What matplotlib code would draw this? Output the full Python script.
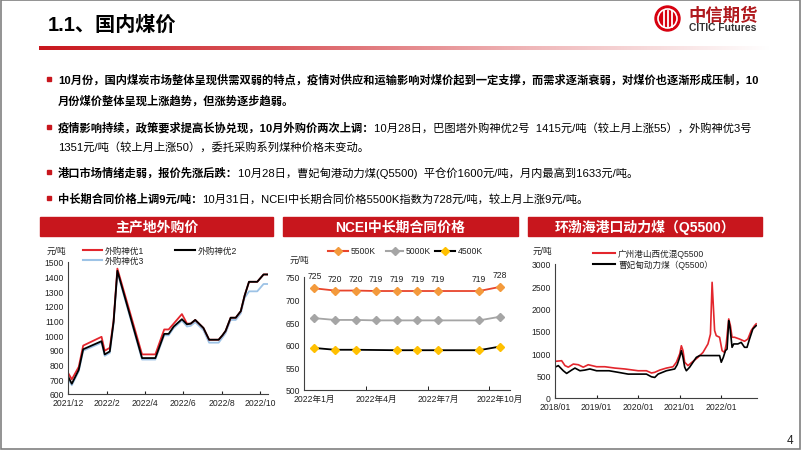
import numpy as np
import matplotlib
matplotlib.use('Agg')
import matplotlib.pyplot as plt
from matplotlib.patches import Rectangle, Circle
from matplotlib.colors import LinearSegmentedColormap

plt.rcParams['font.family'] = ['Liberation Sans', 'Noto Sans CJK SC', 'DejaVu Sans']

W, H = 802, 452
RED = '#C8161D'

# ---- panel 1: 主产地外购价 ----
sy_dates = ['2021-12-01', '2021-12-07', '2021-12-18', '2021-12-25', '2022-01-23', '2022-01-28',
            '2022-02-05', '2022-02-11', '2022-02-17', '2022-03-28', '2022-04-18', '2022-05-02',
            '2022-05-09', '2022-05-17', '2022-05-30', '2022-06-07', '2022-06-13', '2022-06-20',
            '2022-07-03', '2022-07-12', '2022-07-27', '2022-08-02', '2022-08-07', '2022-08-15',
            '2022-08-23', '2022-08-31', '2022-09-06', '2022-09-13', '2022-09-26', '2022-10-06',
            '2022-10-12']
sy1 = [745, 700, 785, 930, 990, 895, 915, 1100, 1455, 870, 870, 1040, 1040, 1080, 1145, 1080,
       1080, 1105, 1050, 970, 970, 1000, 1030, 1120, 1120, 1165, 1270, 1365, 1365, 1415, 1415]
sy2 = [720, 670, 765, 905, 960, 870, 890, 1090, 1440, 845, 845, 1010, 1010, 1060, 1110, 1075,
       1080, 1105, 1050, 970, 970, 1000, 1030, 1120, 1120, 1165, 1270, 1365, 1365, 1415, 1415]
sy3 = [705, 660, 755, 895, 950, 860, 880, 1080, 1430, 835, 835, 1000, 1000, 1050, 1100, 1060,
       1065, 1090, 1035, 950, 950, 985, 1015, 1105, 1105, 1150, 1255, 1300, 1300, 1350, 1350]
sy_ticks = ['2021-12-01', '2022-02-01', '2022-04-01', '2022-06-01', '2022-08-01', '2022-10-01']
sy_ticklabels = ['2021/12', '2022/2', '2022/4', '2022/6', '2022/8', '2022/10']

# ---- panel 2: NCEI中长期合同价格 ----
ncei_months = [1, 2, 3, 4, 5, 6, 7, 9, 10]
k5500 = [725, 720, 720, 719, 719, 719, 719, 719, 728]
k5000 = [659, 655, 655, 654, 654, 654, 654, 654, 662]
k4500_months = [1, 2, 3, 5, 6, 7, 9, 10]
k4500 = [593, 589, 589, 588, 588, 588, 588, 596]
ncei_ticks = [1, 4, 7, 10]
ncei_ticklabels = ['2022年1月', '2022年4月', '2022年7月', '2022年10月']

# ---- panel 3: 环渤海港口动力煤 ----
gz_t = [2018.00, 2018.16, 2018.24, 2018.32, 2018.44, 2018.56, 2018.68, 2018.80, 2019.00, 2019.20,
        2019.44, 2019.68, 2020.00, 2020.20, 2020.32, 2020.40, 2020.52, 2020.68, 2020.84, 2020.92,
        2021.00, 2021.04, 2021.08, 2021.12, 2021.20, 2021.32, 2021.44, 2021.56, 2021.68, 2021.74,
        2021.78, 2021.84, 2021.88, 2021.96, 2022.02, 2022.08, 2022.12, 2022.18, 2022.22, 2022.26,
        2022.32, 2022.44, 2022.56, 2022.64, 2022.72, 2022.80, 2022.84]
gz_v = [820, 835, 725, 690, 760, 745, 690, 745, 700, 700,
        670, 650, 610, 610, 560, 575, 625, 670, 700, 800,
        985, 1170, 1060, 800, 725, 820, 910, 1020, 1210, 1430,
        2590, 1510, 1395, 1360, 1060, 1020, 1210, 1770, 1620, 1360,
        1360, 1320, 1270, 1320, 1510, 1620, 1660]
cfd_t = [2018.00, 2018.08, 2018.20, 2018.28, 2018.40, 2018.48, 2018.60, 2018.72, 2018.84, 2019.00,
         2019.30, 2019.52, 2019.76, 2020.00, 2020.20, 2020.32, 2020.40, 2020.48, 2020.68, 2020.88,
         2020.94, 2021.00, 2021.04, 2021.08, 2021.12, 2021.16, 2021.24, 2021.32, 2021.40, 2021.48,
         2021.96, 2022.00, 2022.05, 2022.10, 2022.14, 2022.18, 2022.21, 2022.26, 2022.30, 2022.40,
         2022.48, 2022.56, 2022.62, 2022.68, 2022.76, 2022.84]
cfd_v = [690, 725, 610, 550, 625, 670, 610, 625, 650, 610,
         610, 575, 535, 535, 535, 475, 460, 535, 610, 650,
         745, 910, 1060, 910, 690, 610, 690, 800, 910, 950,
         950, 800, 910, 1060, 1095, 1730, 1580, 1135, 1210, 1210,
         1245, 1135, 1135, 1320, 1545, 1620]
port_ticks = [2018, 2019, 2020, 2021, 2022]
port_ticklabels = ['2018/01', '2019/01', '2020/01', '2021/01', '2022/01']

bullets = [
    (80, '10月份，国内煤炭市场整体呈现供需双弱的特点，疫情对供应和运输影响对煤价起到一定支撑，而需求逐渐衰弱，对煤价也逐渐形成压制，10', '', True),
    (101, '月份煤价整体呈现上涨趋势，但涨势逐步趋弱。', '', False),
    (128, '疫情影响持续，政策要求提高长协兑现，10月外购价两次上调：', '10月28日，巴图塔外购神优2号  1415元/吨（较上月上涨55），外购神优3号', True),
    (147, '', '1351元/吨（较上月上涨50），委托采购系列煤种价格未变动。', False),
    (173, '港口市场情绪走弱，报价先涨后跌：', '10月28日，曹妃甸港动力煤(Q5500)  平仓价1600元/吨，月内最高到1633元/吨。', True),
    (199, '中长期合同价格上调9元/吨：', '10月31日，NCEI中长期合同价格5500K指数为728元/吨，较上月上涨9元/吨。', True),
]


def box(x0, y0, x1, y1):
    return [x0 / W, 1 - y1 / H, (x1 - x0) / W, (y1 - y0) / H]


def style(ax):
    for s in ['top', 'right']:
        ax.spines[s].set_visible(False)
    for s in ['left', 'bottom']:
        ax.spines[s].set_color('#404040')
        ax.spines[s].set_linewidth(0.8)
    ax.tick_params(axis='y', length=0, labelsize=6.2, pad=3, colors='#222222')
    ax.tick_params(axis='x', length=2.5, direction='in', labelsize=6.2, pad=3, colors='#222222')
    ax.patch.set_alpha(0)


fig = plt.figure(figsize=(W / 100, H / 100), dpi=100)
bg = fig.add_axes([0, 0, 1, 1])
bg.set_xlim(0, W)
bg.set_ylim(H, 0)
bg.set_autoscale_on(False)
bg.axis('off')

# frame
bg.add_patch(Rectangle((1, 1), 799, 449, fill=False, ec='#808080', lw=1.2))

# title and gradient rule
bg.text(48, 25, '1.1、国内煤价', fontsize=14.5, weight='bold', va='center', ha='left')
cmap = LinearSegmentedColormap.from_list('rule', [RED, '#DA5A5F', '#EFB5B7', '#FFFFFF'])
bg.imshow(np.linspace(0, 1, 256)[None, :], extent=(39, 770, 50.5, 46.5), cmap=cmap, aspect='auto')

# logo
bg.add_patch(Circle((667.5, 19.5), 12.5, color='#D7000F'))
bg.add_patch(Circle((667.5, 19.5), 9.5, fill=False, ec='white', lw=1.2))
for xx in [663.5, 667.5, 671.5]:
    bg.plot([xx, xx], [11.5, 27.5], color='white', lw=1.3)
bg.text(688, 15.5, '中信期货', fontsize=12.5, weight='bold', color='#B01A1E', va='center', ha='left')
bg.text(689, 28, 'CITIC Futures', fontsize=7.4, weight='bold', color='#333333', va='center', ha='left')

# bullets
for y, bold, normal, mark in bullets:
    if mark:
        bg.add_patch(Rectangle((46.5, y - 2.2), 4.4, 4.4, color=RED))
    if bold:
        t = bg.text(58, y, bold, fontsize=8.1, weight='bold', va='center', ha='left')
        if normal:
            bg.annotate(normal, xy=(1, 0.5), xycoords=t, va='center', ha='left', fontsize=8.1)
    else:
        bg.text(58, y, normal, fontsize=8.1, va='center', ha='left')

# panel headers
headers = [(40, 273, '主产地外购价'), (283, 518, 'NCEI中长期合同价格'), (528, 762, '环渤海港口动力煤（Q5500）')]
for x0, x1, label in headers:
    bg.add_patch(Rectangle((x0, 218), x1 - x0, 19, color=RED))
    bg.text((x0 + x1) / 2, 227.5, label, fontsize=10, weight='bold', color='white', va='center', ha='center')


def key(x0, x1, y, color, label, marker=None, mfc=None):
    bg.plot([x0, x1], [y, y], color=color, lw=1.5)
    if marker:
        bg.plot([(x0 + x1) / 2], [y], marker=marker, color=mfc, mec=mfc, ms=4)
    bg.text(x1 + 3, y, label, fontsize=6.2, va='center', ha='left', color='#222222')


# ---- panel 1 ----
ax1 = fig.add_axes(box(68, 263, 268, 395))
d = np.array(sy_dates, dtype='datetime64[D]')
ax1.plot(d, sy3, color='#9DC3E6', lw=1.3)
ax1.plot(d, sy1, color='#E3262D', lw=1.3)
ax1.plot(d, sy2, color='black', lw=1.3)
ax1.set_ylim(600, 1500)
ax1.set_yticks(range(600, 1501, 100))
ax1.set_xlim(np.datetime64('2021-12-01'), np.datetime64('2022-10-13'))
ax1.set_xticks(np.array(sy_ticks, dtype='datetime64[D]'))
ax1.set_xticklabels(sy_ticklabels)
style(ax1)
bg.text(47, 251, '元/吨', fontsize=6.2, va='center', ha='left', color='#222222')
key(83, 102, 251, '#E3262D', '外购神优1')
key(175, 195, 251, 'black', '外购神优2')
key(83, 102, 261, '#9DC3E6', '外购神优3')

# ---- panel 2 ----
ax2 = fig.add_axes(box(304, 278, 510, 391))
ax2.plot(ncei_months, k5500, color='#E8452C', lw=1.3, marker='D', ms=3.6, mfc='#F39A3C', mec='#F39A3C')
ax2.plot(ncei_months, k5000, color='#A5A5A5', lw=1.3, marker='D', ms=3.6, mfc='#A5A5A5', mec='#A5A5A5')
ax2.plot(k4500_months, k4500, color='black', lw=1.3, marker='D', ms=3.6, mfc='#FFC000', mec='#FFC000')
for m, v in zip(ncei_months, k5500):
    ax2.annotate(str(v), (m, v), xytext=(0, 9), textcoords='offset points',
                 ha='center', va='center', fontsize=6.2, color='#222222')
ax2.set_ylim(500, 750)
ax2.set_yticks(range(500, 751, 50))
ax2.set_xlim(0.5, 10.5)
ax2.set_xticks(ncei_ticks)
ax2.set_xticklabels(ncei_ticklabels)
ax2.set_xticks([3.5, 6.5, 9.5], minor=True)
style(ax2)
ax2.tick_params(axis='x', which='major', length=0)
ax2.tick_params(axis='x', which='minor', length=3, direction='in')
for ln in ax2.lines:
    ln.set_clip_on(False)
bg.text(290, 260, '元/吨', fontsize=6.2, va='center', ha='left', color='#222222')
key(328, 348, 252, '#E8452C', '5500K', 'D', '#F39A3C')
key(386, 403, 252, '#A5A5A5', '5000K', 'D', '#A5A5A5')
key(435, 455, 252, 'black', '4500K', 'D', '#FFC000')

# ---- panel 3 ----
ax3 = fig.add_axes(box(555, 265, 757, 399))
ax3.plot(gz_t, gz_v, color='#E3262D', lw=1.2)
ax3.plot(cfd_t, cfd_v, color='black', lw=1.2)
ax3.set_ylim(0, 3000)
ax3.set_yticks(range(0, 3001, 500))
ax3.set_xlim(2018.0, 2022.86)
ax3.set_xticks(port_ticks)
ax3.set_xticklabels(port_ticklabels)
style(ax3)
bg.text(533, 251, '元/吨', fontsize=6.2, va='center', ha='left', color='#222222')
key(593, 615, 254, '#E3262D', '广州港山西优混Q5500')
key(593, 615, 265, 'black', '曹妃甸动力煤（Q5500）')

# page number
bg.text(790, 441, '4', fontsize=8.5, va='center', ha='center', color='#222222')

bg.set_xlim(0, W)
bg.set_ylim(H, 0)
fig.savefig('out.png', dpi=100)
